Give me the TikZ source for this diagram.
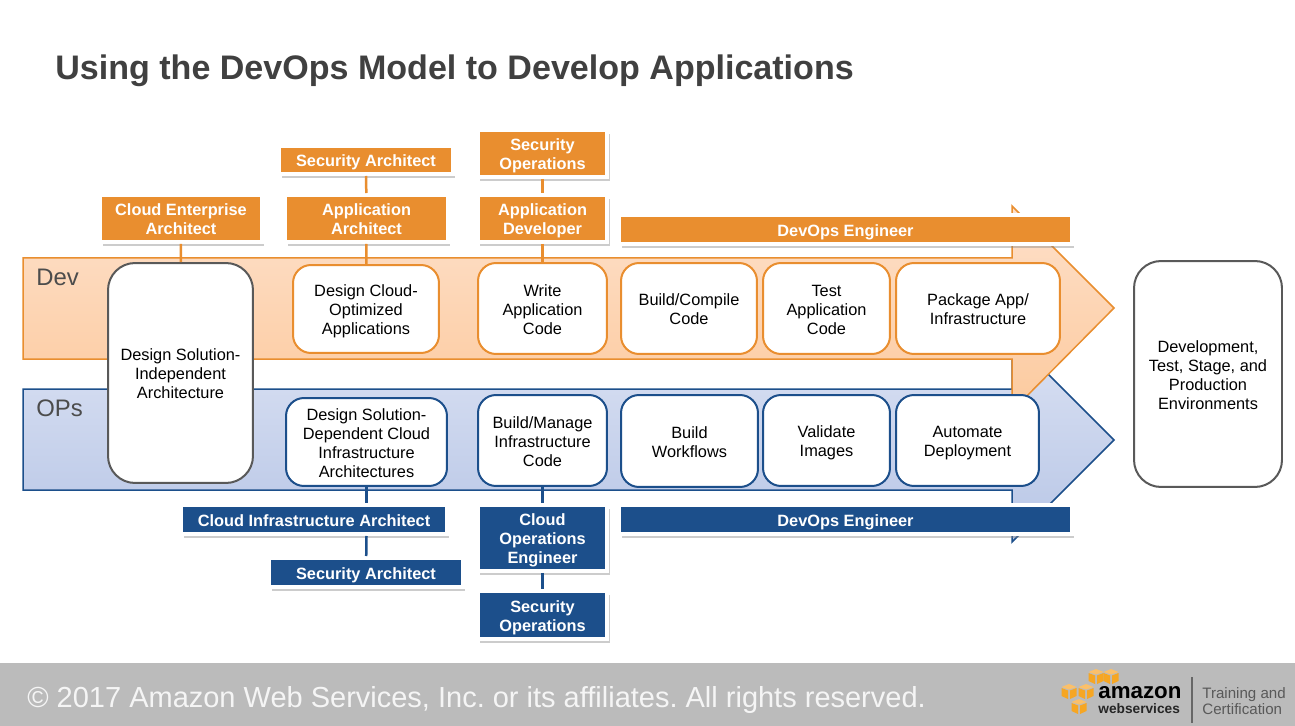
\documentclass[tikz,border=0pt]{standalone}
\usepackage{fontspec}
\setmainfont{Liberation Sans}
\usetikzlibrary{shadows}
\frenchspacing
\definecolor{devorange}{HTML}{E98E2F}
\definecolor{opsblue}{HTML}{1C4F8B}
\definecolor{boxgray}{HTML}{595959}
\definecolor{footgray}{HTML}{BBBBBB}
\definecolor{awsorange}{HTML}{F6A623}
\definecolor{awstop}{HTML}{FBC06A}
\definecolor{devtop}{HTML}{FEE0CA}
\definecolor{devbottom}{HTML}{FCCA9E}
\definecolor{opstop}{HTML}{DAE1F3}
\definecolor{opsbottom}{HTML}{B8C6E6}
\tikzset{
  oneline/.style={text depth=0pt,text height=7.5pt},
  twolines/.style={text depth=0pt,text height=18.6pt},
  threelines/.style={text depth=0pt,text height=29.3pt},
  fourlines/.style={text depth=0pt,text height=40.1pt},
  rolebox/.style={draw=white,line width=0.08cm,inner sep=0pt,align=center,text=white,
    font=\fontsize{9.3}{10.75}\selectfont\bfseries,
    drop shadow={shadow xshift=0.05cm,shadow yshift=-0.08cm,opacity=0.4}},
  devrole/.style={rolebox,fill=devorange},
  opsrole/.style={rolebox,fill=opsblue},
  stepbox/.style={fill=white,line width=0.04cm,rounded corners=0.36cm,inner sep=0pt,align=center,
    font=\fontsize{9.3}{10.75}\selectfont},
  devstep/.style={stepbox,draw=devorange},
  opsstep/.style={stepbox,draw=opsblue},
  graystep/.style={stepbox,draw=boxgray,rounded corners=0.54cm},
  devlink/.style={draw=devorange,line width=0.05cm},
  opslink/.style={draw=opsblue,line width=0.05cm},
  lanelabel/.style={anchor=west,inner sep=0pt,text=black!70,font=\fontsize{13.6}{16}\selectfont}
}
\begin{document}
\begin{tikzpicture}[x=0.02cm,y=-0.02cm]
\useasboundingbox (0,0) rectangle (1295,726);
\fill[white] (0,0) rectangle (1295,726);
\node[anchor=west,inner sep=0pt,text=black!75,font=\fontsize{19.38}{24}\selectfont\bfseries] (title) at (55,71) {Using the DevOps Model to Develop Applications};
\filldraw[draw=opsblue,line width=0.03cm,top color=opstop,bottom color=opsbottom]
  (23,389) -- (1012,389) -- (1012,338) -- (1114,440) -- (1012,542) -- (1012,490) -- (23,490) -- cycle;
\filldraw[draw=devorange,line width=0.03cm,top color=devtop,bottom color=devbottom]
  (23,258) -- (1012,258) -- (1012,206) -- (1114,308) -- (1012,411) -- (1012,359) -- (23,359) -- cycle;
\node[lanelabel] (dev) at (36,277) {Dev};
\node[lanelabel] (ops) at (36,408) {OPs};
\node[graystep,threelines,minimum width=2.9cm,minimum height=4.4cm] (indep) at (180.5,373) {Design Solution-\\Independent\\Architecture};
\node[graystep,fourlines,minimum width=2.96cm,minimum height=4.52cm] (envs) at (1208,374) {Development,\\Test, Stage, and\\Production\\Environments};
\node[devstep,threelines,minimum width=2.92cm,minimum height=1.76cm] (optimized) at (366,309) {Design Cloud-\\Optimized\\Applications};
\node[devstep,threelines,minimum width=2.58cm,minimum height=1.82cm] (writecode) at (542.5,308.5) {Write\\Application\\Code};
\node[devstep,twolines,minimum width=2.72cm,minimum height=1.82cm] (compile) at (689,308.5) {Build/Compile\\Code};
\node[devstep,threelines,minimum width=2.54cm,minimum height=1.82cm] (testcode) at (826.5,308.5) {Test\\Application\\Code};
\node[devstep,twolines,minimum width=3.28cm,minimum height=1.82cm] (package) at (978,308.5) {Package App/\\Infrastructure};
\node[opsstep,fourlines,minimum width=3.22cm,minimum height=1.76cm] (dependent) at (366.5,442) {Design Solution-\\Dependent Cloud\\Infrastructure\\Architectures};
\node[opsstep,threelines,minimum width=2.58cm,minimum height=1.82cm] (manage) at (542.5,440.5) {Build/Manage\\Infrastructure\\Code};
\node[opsstep,twolines,minimum width=2.74cm,minimum height=1.84cm] (workflows) at (689.5,441) {Build\\Workflows};
\node[opsstep,twolines,minimum width=2.54cm,minimum height=1.82cm] (images) at (826.5,440.5) {Validate\\Images};
\node[opsstep,twolines,minimum width=2.86cm,minimum height=1.82cm] (deploy) at (967.5,440.5) {Automate\\Deployment};
\node[devrole,twolines,minimum width=3.24cm,minimum height=0.94cm] (enterprise) at (181,218.5) {Cloud Enterprise\\Architect};
\node[devrole,oneline,minimum width=3.48cm,minimum height=0.56cm] (secarch) at (366,160) {Security Architect};
\node[devrole,twolines,minimum width=3.26cm,minimum height=0.94cm] (apparch) at (366.5,218.5) {Application\\Architect};
\node[devrole,twolines,minimum width=2.6cm,minimum height=0.94cm] (secops) at (542.5,153.5) {Security\\Operations};
\node[devrole,twolines,minimum width=2.6cm,minimum height=0.94cm] (appdev) at (542.5,218.5) {Application\\Developer};
\node[devrole,oneline,minimum width=9.06cm,minimum height=0.58cm] (devengineer) at (845.5,229.5) {DevOps Engineer};
\node[opsrole,oneline,minimum width=5.32cm,minimum height=0.58cm] (infraarch) at (314,519.5) {Cloud Infrastructure Architect};
\node[opsrole,oneline,minimum width=3.88cm,minimum height=0.58cm] (opssecarch) at (366,572.5) {Security Architect};
\node[opsrole,threelines,minimum width=2.6cm,minimum height=1.32cm] (cloudops) at (542.5,538) {Cloud\\Operations\\Engineer};
\node[opsrole,twolines,minimum width=2.6cm,minimum height=0.96cm] (opssecops) at (542.5,615) {Security\\Operations};
\node[opsrole,oneline,minimum width=9.06cm,minimum height=0.58cm] (opsengineer) at (845.5,519.5) {DevOps Engineer};
\path
  (enterprise) edge[devlink] (indep)
  (secarch) edge[devlink] (apparch)
  (apparch) edge[devlink] (optimized)
  (secops) edge[devlink] (appdev)
  (appdev) edge[devlink] (writecode)
  (dependent.south) edge[opslink] (dependent.south |- infraarch.north)
  (dependent.south |- infraarch.south) edge[opslink] (opssecarch)
  (manage) edge[opslink] (cloudops)
  (cloudops) edge[opslink] (opssecops)
;
\fill[footgray] (0,663) rectangle (1295,726);
\node[anchor=west,inner sep=0pt,text=white!92!gray,font=\fontsize{16.5}{19}\selectfont] (copyright) at (27,700) {© 2017 Amazon Web Services, Inc. or its affiliates. All rights reserved.};
\foreach \cx/\cy in {1096/676,1111/676,1069/691,1086/691,1079/706} {
  \fill[awstop] (\cx-7.5,\cy-4) -- (\cx,\cy-7) -- (\cx+7.5,\cy-4) -- (\cx,\cy-1.5) -- cycle;
  \fill[awsorange] (\cx-7.5,\cy-3) -- (\cx-1,\cy-0.5) -- (\cx-1,\cy+8) -- (\cx-7.5,\cy+5) -- cycle;
  \fill[awsorange] (\cx+7.5,\cy-3) -- (\cx+1,\cy-0.5) -- (\cx+1,\cy+8) -- (\cx+7.5,\cy+5) -- cycle;
}
\node[anchor=west,inner sep=0pt,text=black,font=\fontsize{12.7}{14}\selectfont\bfseries] (amazon) at (1098,693) {amazon};
\node[anchor=west,inner sep=0pt,text=black!85,font=\fontsize{7.8}{9}\selectfont\bfseries] (webservices) at (1098,709) {webservices};
\coordinate (dividertop) at (1192,677);
\coordinate (dividerbottom) at (1192,723);
\draw[black!60,line width=0.03cm] (dividertop) -- (dividerbottom);
\node[anchor=west,inner sep=0pt,align=left,text=black!65,font=\fontsize{8.6}{9.07}\selectfont] (training) at (1202,701) {Training and\\Certification};
\end{tikzpicture}
\end{document}
